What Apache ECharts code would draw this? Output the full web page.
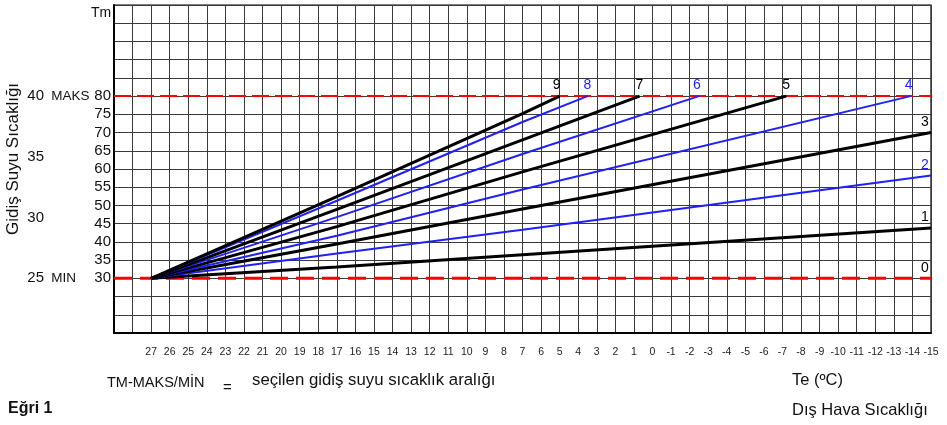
<!DOCTYPE html>
<html>
<head>
<meta charset="utf-8">
<script src="https://cdn.jsdelivr.net/npm/echarts@6/dist/echarts.min.js"></script>
<style>
  html, body { margin: 0; padding: 0; background: #fff; }
  #chart { width: 947px; height: 425px; }
</style>
</head>
<body>
<div id="chart"></div>
<script>
// outside temperature range (x axis runs from 29 on the left down to -15)
const teMin = -15
const teMax = 29
const teLabels = [27, 26, 25, 24, 23, 22, 21, 20, 19, 18, 17, 16, 15, 14, 13, 12, 11, 10, 9, 8, 7, 6, 5, 4, 3, 2, 1, 0,
  -1, -2, -3, -4, -5, -6, -7, -8, -9, -10, -11, -12, -13, -14, -15]

// flow temperature scale
const tmMin = 15
const tmMax = 105
const tmLabels = [30, 35, 40, 45, 50, 55, 60, 65, 70, 75, 80]
const tmSideLabels = [25, 30, 35, 40] // the second (left) scale, 25 = 30 and 40 = 80

// dashed limit lines
const minLine = [[29, 30], [-15, 30]]
const maxLine = [[29, 80], [-15, 80]]

// heating curves, [Te, Tm] points
const curve1 = [[27, 30], [17, 33.1], [7, 36.5], [-15, 43.8]]
const curve2 = [[27, 30], [17, 36.8], [7, 43.3], [-15, 58.2]]
const curve3 = [[27, 30], [17, 39.4], [7, 49.0], [-15, 70]]
const curve4 = [[27, 30], [17, 41.7], [7, 54.4], [-13.9, 80]]
const curve5 = [[27, 30], [17, 44.2], [7, 59.2], [-7.2, 80]]
const curve6 = [[27, 30], [17, 46.8], [7, 64.1], [-2.5, 80]]
const curve7 = [[27, 30], [17, 48.9], [7, 68.0], [0.7, 80]]
const curve8 = [[27, 30], [17, 51.3], [7, 72.9], [3.5, 80]]
const curve9 = [[27, 30], [17, 52.4], [7, 75.2], [5, 80]]

const FONT = 'Liberation Sans, Arial, sans-serif'
const BLACK = '#000'
const BLUE = '#1f1fff'

function endText(name, color, last, offset) {
  return {
    show: true,
    position: 'top',
    distance: 3,
    offset: offset || [0, 0],
    color: color,
    fontFamily: FONT,
    fontSize: 14,
    formatter: p => (p.dataIndex === last ? name : '')
  }
}

function curve(name, data, color, width, offset) {
  return {
    name: name,
    type: 'line',
    data: data,
    symbol: 'circle',
    symbolSize: 1,
    showSymbol: true,
    silent: true,
    z: 4,
    itemStyle: { color: color },
    lineStyle: { color: color, width: width },
    label: endText(name, color, data.length - 1, offset)
  }
}

const chart = echarts.init(document.getElementById('chart'))

chart.setOption({
  animation: false,
  backgroundColor: '#fff',
  grid: { left: 114, right: 16, top: 5, bottom: 92, show: true, borderColor: '#000', borderWidth: 1.2 },
  xAxis: {
    type: 'value',
    inverse: true,
    min: teMin,
    max: teMax,
    interval: 1,
    axisLine: { show: true, onZero: false, lineStyle: { color: '#000', width: 2 } },
    axisTick: { show: false },
    splitLine: { show: true, lineStyle: { color: '#3a3a3a', width: 1 } },
    axisLabel: {
      margin: 14,
      color: '#222',
      fontFamily: FONT,
      fontSize: 10.5,
      formatter: v => (teLabels.indexOf(v) >= 0 ? String(v) : '')
    }
  },
  yAxis: [
    {
      type: 'value',
      min: tmMin,
      max: tmMax,
      interval: 5,
      axisLine: { show: true, onZero: false, lineStyle: { color: '#000', width: 2 } },
      axisTick: { show: false },
      splitLine: { show: true, lineStyle: { color: '#3a3a3a', width: 1 } },
      axisLabel: {
        margin: 3,
        color: '#111',
        fontFamily: FONT,
        fontSize: 15,
        formatter: v => {
          if (tmLabels.indexOf(v) < 0) return ''
          if (v === 80) return '{m|MAKS}' + v
          if (v === 30) return '{m|MIN}' + v
          return String(v)
        },
        rich: {
          m: { width: 43, align: 'left', fontSize: 13.5, fontFamily: FONT, color: '#111' }
        }
      }
    },
    {
      type: 'value',
      position: 'left',
      offset: 70,
      min: 25 + (tmMin - 30) * 0.3,
      max: 25 + (tmMax - 30) * 0.3,
      axisLine: { show: false },
      axisTick: { show: false },
      splitLine: { show: false },
      axisLabel: {
        margin: 0,
        color: '#111',
        fontFamily: FONT,
        fontSize: 15,
        customValues: tmSideLabels
      }
    }
  ],
  graphic: [
    { type: 'text', left: 91, top: 6, style: { text: 'Tm', font: '14px ' + FONT, fill: '#111' } },
    {
      type: 'text', x: 13, y: 159, rotation: Math.PI / 2,
      style: { text: 'Gidiş Suyu Sıcaklığı', font: '17px ' + FONT, fill: '#111', align: 'center', verticalAlign: 'middle' }
    },
    { type: 'text', left: 107, top: 375, style: { text: 'TM-MAKS/MİN', font: '14.5px ' + FONT, fill: '#111' } },
    { type: 'text', left: 223, top: 380, style: { text: '=', font: '15px ' + FONT, fill: '#111' } },
    { type: 'text', left: 252, top: 372, style: { text: 'seçilen gidiş suyu sıcaklık aralığı', font: '16.8px ' + FONT, fill: '#111' } },
    { type: 'text', left: 792, top: 372, style: { text: 'Te (ºC)', font: '16.5px ' + FONT, fill: '#111' } },
    { type: 'text', left: 792, top: 402, style: { text: 'Dış Hava Sıcaklığı', font: '16.5px ' + FONT, fill: '#111' } },
    { type: 'text', left: 8, top: 401, style: { text: 'Eğri 1', font: 'bold 16px ' + FONT, fill: '#111' } }
  ],
  series: [
    {
      name: '0',
      type: 'line',
      data: minLine,
      symbol: 'circle',
      symbolSize: 1,
      silent: true,
      z: 3,
      itemStyle: { color: '#ff0000' },
      lineStyle: { color: '#ff0000', width: 3, type: [18, 8] },
      label: endText('0', BLACK, 1, [-6, 0])
    },
    {
      name: 'maks',
      type: 'line',
      data: maxLine,
      symbol: 'none',
      silent: true,
      z: 3,
      lineStyle: { color: '#ff0000', width: 2, type: [17, 6] }
    },
    curve('1', curve1, BLACK, 3, [-6, 0]),
    curve('2', curve2, BLUE, 2, [-6, 0]),
    curve('3', curve3, BLACK, 3, [-6, 0]),
    curve('4', curve4, BLUE, 2, [-2, 0]),
    curve('5', curve5, BLACK, 3, [0, 0]),
    curve('6', curve6, BLUE, 2, [-2, 0]),
    curve('7', curve7, BLACK, 3, [0, 0]),
    curve('8', curve8, BLUE, 2, [0, 0]),
    curve('9', curve9, BLACK, 3, [-3, 0])
  ]
})
</script>
</body>
</html>
